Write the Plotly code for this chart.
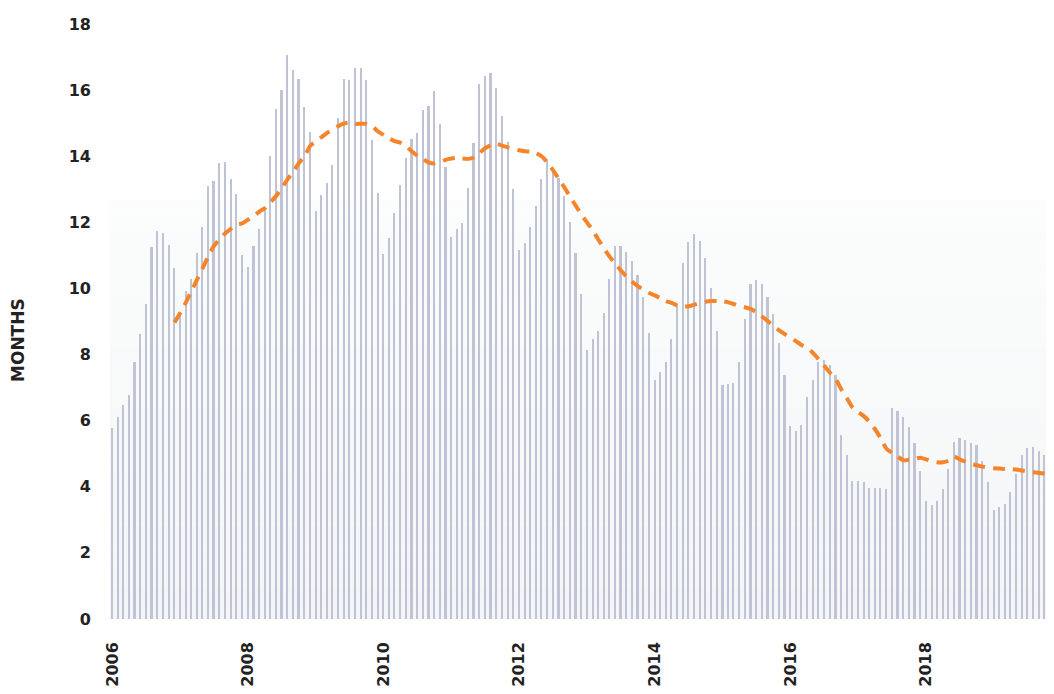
import pandas as pd
import plotly.graph_objects as go

# ---- data ----
start_month = "2006-01-01"
months_supply = [
    5.79, 6.12, 6.47, 6.77, 7.76, 8.63, 9.53, 11.24, 11.74, 11.69, 11.30, 10.63,
    9.30, 9.91, 10.29, 11.07, 11.86, 13.09, 13.26, 13.78, 13.84, 13.31, 12.86, 11.02,
    10.65, 11.29, 11.81, 12.38, 14.00, 15.43, 15.99, 17.06, 16.61, 16.34, 15.48, 14.73,
    12.34, 12.84, 13.20, 13.74, 15.17, 16.34, 16.32, 16.68, 16.67, 16.32, 14.48, 12.90,
    11.04, 11.54, 12.29, 13.13, 13.95, 14.52, 14.70, 15.40, 15.51, 15.96, 14.97, 13.68,
    11.55, 11.80, 11.99, 13.03, 14.41, 16.17, 16.43, 16.51, 16.07, 15.23, 14.43, 13.01,
    11.15, 11.37, 11.85, 12.49, 13.32, 13.92, 13.64, 13.35, 12.79, 12.00, 11.07, 9.83,
    8.13, 8.46, 8.72, 9.26, 10.29, 11.29, 11.29, 11.11, 10.82, 10.42, 9.74, 8.66,
    7.24, 7.46, 7.79, 8.46, 9.54, 10.78, 11.42, 11.65, 11.43, 10.91, 10.00, 8.72,
    7.08, 7.11, 7.14, 7.76, 9.09, 10.12, 10.25, 10.13, 9.73, 9.23, 8.35, 7.38,
    5.85, 5.68, 5.86, 6.73, 7.24, 7.76, 7.85, 7.68, 7.38, 5.57, 4.95, 4.17,
    4.18, 4.15, 3.95, 3.96, 3.96, 3.93, 6.39, 6.28, 6.11, 5.81, 5.31, 4.49,
    3.58, 3.46, 3.58, 3.93, 4.54, 5.36, 5.49, 5.43, 5.33, 5.26, 4.79, 4.13,
    3.31, 3.40, 3.49, 3.85, 4.39, 4.95, 5.16, 5.20, 5.08, 4.96,
]

trend_start = "2006-12-01"
trend_values = [
    8.97, 9.26, 9.58, 9.90, 10.26, 10.60, 10.97, 11.28, 11.49, 11.67, 11.80, 11.93, 11.97,
    12.08, 12.19, 12.32, 12.43, 12.61, 12.80, 13.03, 13.30, 13.53, 13.79, 14.00, 14.31,
    14.45, 14.58, 14.70, 14.81, 14.91, 14.99, 15.02, 14.98, 14.98, 14.98, 14.90, 14.75,
    14.64, 14.53, 14.46, 14.41, 14.31, 14.15, 14.02, 13.91, 13.81, 13.78, 13.82, 13.89,
    13.93, 13.95, 13.93, 13.92, 13.96, 14.10, 14.24, 14.33, 14.38, 14.32, 14.27, 14.22,
    14.18, 14.15, 14.14, 14.09, 14.00, 13.81, 13.58, 13.32, 13.05, 12.78, 12.50, 12.24,
    11.99, 11.75, 11.49, 11.22, 10.97, 10.75, 10.55, 10.36, 10.20, 10.07, 9.96, 9.86,
    9.79, 9.70, 9.62, 9.56, 9.49, 9.45, 9.46, 9.51, 9.56, 9.60, 9.62, 9.62,
    9.61, 9.58, 9.53, 9.47, 9.43, 9.38, 9.28, 9.15, 9.01, 8.87, 8.73, 8.62,
    8.52, 8.40, 8.29, 8.21, 8.05, 7.86, 7.66, 7.45, 7.26, 6.95, 6.67, 6.40,
    6.26, 6.13, 5.97, 5.74, 5.47, 5.15, 5.03, 4.91, 4.80, 4.82, 4.85, 4.88,
    4.83, 4.77, 4.74, 4.74, 4.79, 4.91, 4.83, 4.76, 4.70, 4.65, 4.61, 4.58,
    4.56, 4.55, 4.54, 4.54, 4.52, 4.49, 4.46, 4.44, 4.42, 4.40,
]

tick_dates = ["2006-01-01", "2008-01-01", "2010-01-01", "2012-01-01",
              "2014-01-01", "2016-01-01", "2018-01-01"]
tick_labels = ["2006", "2008", "2010", "2012", "2014", "2016", "2018"]
y_ticks = [0, 2, 4, 6, 8, 10, 12, 14, 16, 18]

# ---- figure ----
bar_dates = pd.date_range(start_month, periods=len(months_supply), freq="MS")
trend_dates = pd.date_range(trend_start, periods=len(trend_values), freq="MS")

BAR_COLOR = "#BFC3D5"
LINE_COLOR = "#F5842B"
TEXT = "#222222"
FONT = "DejaVu Sans"

fig = go.Figure()
fig.add_trace(go.Bar(
    x=bar_dates, y=months_supply,
    width=9 * 86400000,
    marker=dict(color=BAR_COLOR, line=dict(width=0)),
    hoverinfo="skip", showlegend=False,
))
fig.add_trace(go.Scatter(
    x=trend_dates, y=trend_values, mode="lines",
    line=dict(color=LINE_COLOR, width=4, dash="12px,8px", shape="spline", smoothing=0.6),
    hoverinfo="skip", showlegend=False,
))

# soft vertical gradient behind the bars
shapes = []
n = 40
top_v = 12.7
c_top = (251, 252, 252)
c_bot = (244, 245, 246)
for k in range(n):
    y0 = top_v * k / n
    y1 = top_v * (k + 1) / n
    t = k / (n - 1)
    col = tuple(round(c_bot[j] + (c_top[j] - c_bot[j]) * t) for j in range(3))
    shapes.append(dict(type="rect", xref="paper", yref="y", x0=0, x1=1, y0=y0, y1=y1,
                       fillcolor="rgb(%d,%d,%d)" % col, line=dict(width=0), layer="below"))

# the page body adds an 8px offset, so the figure is 8px smaller and its margins shifted
fig.update_layout(
    width=1046, height=686,
    margin=dict(l=102, r=7, t=8, b=66),
    paper_bgcolor="white", plot_bgcolor="white",
    bargap=0,
    shapes=shapes,
    xaxis=dict(
        type="date",
        range=["2005-12-19", "2019-10-14"],
        tickvals=tick_dates, ticktext=tick_labels,
        tickangle=-90,
        tickfont=dict(family=FONT, size=16, color=TEXT, weight="bold"),
        showgrid=False, zeroline=False, showline=False, ticks="",
        ticklabelstandoff=19, ticklabeloverflow="allow",
    ),
    yaxis=dict(
        range=[0, 18],
        tickvals=y_ticks,
        tickfont=dict(family=FONT, size=16, color=TEXT, weight="bold"),
        showgrid=False, zeroline=False, showline=False, ticks="",
        ticklabelstandoff=18, ticklabeloverflow="allow",
    ),
    annotations=[dict(
        text="MONTHS", textangle=-90,
        xref="paper", yref="paper",
        x=(18 - 110) / 937, y=(628 - 341) / 612,
        xanchor="center", yanchor="middle", showarrow=False,
        font=dict(family=FONT, size=17, color=TEXT, weight="bold"),
    )],
)

fig.write_html("out.html")
